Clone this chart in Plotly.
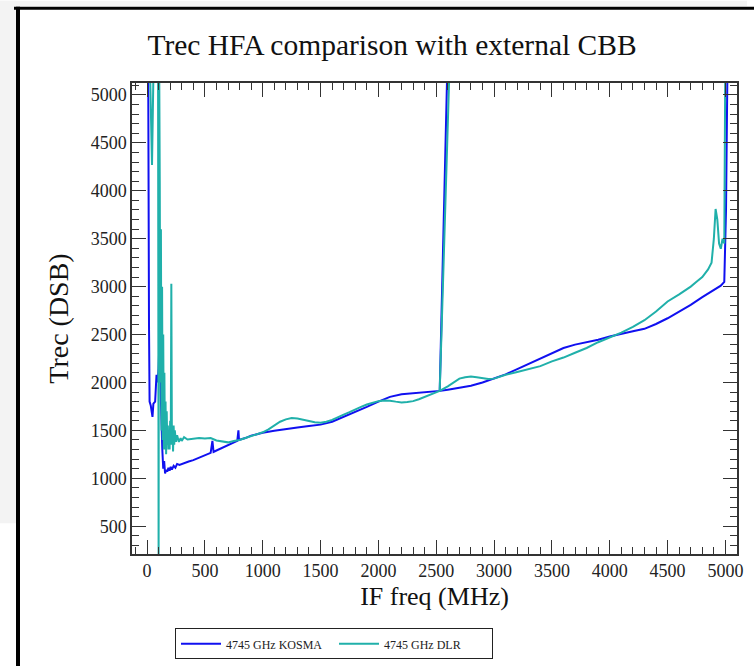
import plotly.graph_objects as go

# ---- data ----
kosma_freq = [0, 10, 17, 22, 32, 40, 47, 55, 70, 82, 92, 100, 110, 118, 125, 132, 140, 148, 156, 165,
              175, 185, 195, 205, 215, 230, 245, 260, 280, 300, 330, 360, 400, 450, 500, 550, 565, 575,
              600, 650, 700, 750, 780, 790, 795, 850, 900, 950, 1000, 1100, 1200, 1300, 1400, 1500, 1600,
              1700, 1800, 1900, 2000, 2100, 2200, 2300, 2400, 2500, 2530, 2540, 2600, 2540, 2530, 2600,
              2700, 2800, 2900, 3000, 3100, 3200, 3300, 3400, 3500, 3600, 3700, 3800, 3900, 4000, 4100,
              4200, 4300, 4400, 4500, 4600, 4700, 4800, 4900, 4960, 4990, 5005, 5020]
kosma_trec = [5600, 5300, 2600, 1800, 1760, 1650, 1640, 1780, 1800, 2080, 2000, 2150, 2550, 1900, 1500,
              1300, 1100, 1180, 1050, 1090, 1070, 1110, 1080, 1120, 1090, 1130, 1110, 1150, 1140, 1150,
              1165, 1175, 1190, 1215, 1240, 1265, 1390, 1275, 1290, 1320, 1345, 1375, 1390, 1500, 1400,
              1420, 1445, 1460, 1475, 1495, 1515, 1530, 1545, 1560, 1590, 1640, 1695, 1745, 1800, 1850,
              1878, 1890, 1900, 1910, 1912, 2350, 5500, 2350, 1912, 1925, 1945, 1965, 2000, 2040, 2085,
              2140, 2195, 2250, 2310, 2360, 2395, 2420, 2445, 2480, 2510, 2535, 2560, 2610, 2670, 2740,
              2810, 2890, 2960, 3010, 3050, 3800, 5600]

dlr_freq = [20, 43, 60, 95, 100, 104, 110, 115, 120, 125, 130, 135, 140, 145, 150, 155, 160, 165, 170,
            175, 180, 185, 190, 195, 200, 205, 210, 215, 220, 225, 230, 235, 240, 250, 260, 275, 290,
            300, 320, 350, 400, 450, 500, 550, 600, 650, 700, 750, 800, 850, 900, 950, 1000, 1050, 1100,
            1150, 1200, 1250, 1300, 1350, 1400, 1450, 1500, 1550, 1600, 1650, 1700, 1750, 1800, 1850,
            1900, 1950, 2000, 2050, 2100, 2150, 2200, 2250, 2300, 2350, 2400, 2450, 2500, 2530, 2540,
            2620, 2540, 2530, 2600, 2650, 2700, 2750, 2800, 2850, 2900, 2950, 3000, 3050, 3100, 3200,
            3300, 3400, 3500, 3600, 3700, 3800, 3900, 4000, 4100, 4200, 4300, 4400, 4500, 4600, 4700,
            4750, 4800, 4850, 4880, 4900, 4915, 4930, 4945, 4960, 4975, 4990, 5000]
dlr_trec = [5600, 4270, 5600, 5600, 100, 5600, 4100, 2000, 3600, 1500, 3000, 1400, 2500, 1300, 2100,
            1300, 1800, 1250, 1700, 1350, 1550, 1300, 1500, 1300, 1600, 1350, 3030, 1350, 1500, 1280,
            1550, 1350, 1500, 1380, 1450, 1380, 1420, 1390, 1430, 1405, 1410, 1420, 1415, 1420, 1395,
            1385, 1375, 1390, 1400, 1420, 1440, 1460, 1480, 1510, 1550, 1590, 1615, 1630, 1625, 1610,
            1595, 1585, 1580, 1590, 1610, 1640, 1665, 1690, 1720, 1745, 1770, 1790, 1805, 1812, 1810,
            1800, 1792, 1795, 1805, 1825, 1850, 1875, 1900, 1912, 2300, 5500, 2300, 1912, 1960, 2000,
            2040, 2055, 2062, 2055, 2042, 2035, 2040, 2060, 2080, 2110, 2137, 2170, 2220, 2260, 2310,
            2360, 2420, 2470, 2520, 2580, 2650, 2740, 2845, 2920, 3000, 3050, 3100, 3180, 3250, 3500,
            3810, 3700, 3450, 3395, 3500, 3450, 5600]

x_tick_step = 500
y_tick_step = 500
minor_step = 100

# ---- layout geometry (pixels) ----
W, H = 754, 671
L, R, T, B = 132, 737, 83, 558
pw, ph = R - L, B - T


def fx(px):
    return (px - L) / pw


def fy(py):
    return (B - py) / ph


SERIF = "Liberation Serif, Times New Roman, serif"
AX = "#333333"

fig = go.Figure()
fig.add_trace(go.Scatter(x=kosma_freq, y=kosma_trec, mode="lines", name="4745 GHz KOSMA",
                         line=dict(color="#1010f0", width=2)))
fig.add_trace(go.Scatter(x=dlr_freq, y=dlr_trec, mode="lines", name="4745 GHz DLR",
                         line=dict(color="#20b0aa", width=2)))

axis_common = dict(
    showgrid=False, zeroline=False, showline=True, linecolor=AX, linewidth=1.5,
    mirror="allticks", ticks="inside", ticklen=14, tickwidth=1.3, tickcolor=AX,
    tickmode="linear", tick0=0,
    tickfont=dict(family=SERIF, size=18, color="#222222"),
    minor=dict(dtick=minor_step, tick0=0, ticks="inside", ticklen=7, tickwidth=1.2,
               tickcolor=AX, showgrid=False),
)

fig.update_xaxes(range=[-130, 5100], dtick=x_tick_step,
                 title=dict(text="IF freq (MHz)", font=dict(family=SERIF, size=26, color="#111111"),
                            standoff=6),
                 **axis_common)
fig.update_yaxes(range=[210, 5125], dtick=y_tick_step,
                 title=dict(text="Trec (DSB)", font=dict(family=SERIF, size=28, color="#111111"),
                            standoff=14),
                 **axis_common)

shapes = [
    # grey surroundings
    dict(type="rect", xref="paper", yref="paper", x0=fx(0), x1=fx(16), y0=fy(527), y1=fy(0),
         fillcolor="#f3f3f3", line=dict(width=0), layer="below"),
    dict(type="rect", xref="paper", yref="paper", x0=fx(0), x1=fx(747), y0=fy(5.5), y1=fy(0),
         fillcolor="#f3f3f3", line=dict(width=0), layer="below"),
    # black page border
    dict(type="line", xref="paper", yref="paper", x0=fx(14), x1=fx(754), y0=fy(7.5), y1=fy(7.5),
         line=dict(color="black", width=3)),
    dict(type="line", xref="paper", yref="paper", x0=fx(18), x1=fx(18), y0=fy(6), y1=fy(671),
         line=dict(color="black", width=4)),
]

fig.update_layout(
    width=W, height=H,
    margin=dict(l=L, r=W - R, t=T, b=H - B, pad=0),
    paper_bgcolor="white", plot_bgcolor="white",
    title=dict(text="Trec HFA comparison with external CBB", x=392 / W, xref="container",
               xanchor="center", y=1 - 45 / H, yanchor="middle",
               font=dict(family=SERIF, size=29.5, color="#111111")),
    showlegend=True,
    legend=dict(orientation="h", x=fx(175), xanchor="left", y=fy(633), yanchor="top",
                bordercolor="#222222", borderwidth=1, bgcolor="white",
                font=dict(family=SERIF, size=12, color="#222222"),
                entrywidth=103, entrywidthmode="pixels", itemwidth=40,
                tracegroupgap=0),
    shapes=shapes,
)

fig.write_html("out.html", config={"displayModeBar": False},
               post_script="document.body.style.margin='0';document.body.style.padding='0';")
